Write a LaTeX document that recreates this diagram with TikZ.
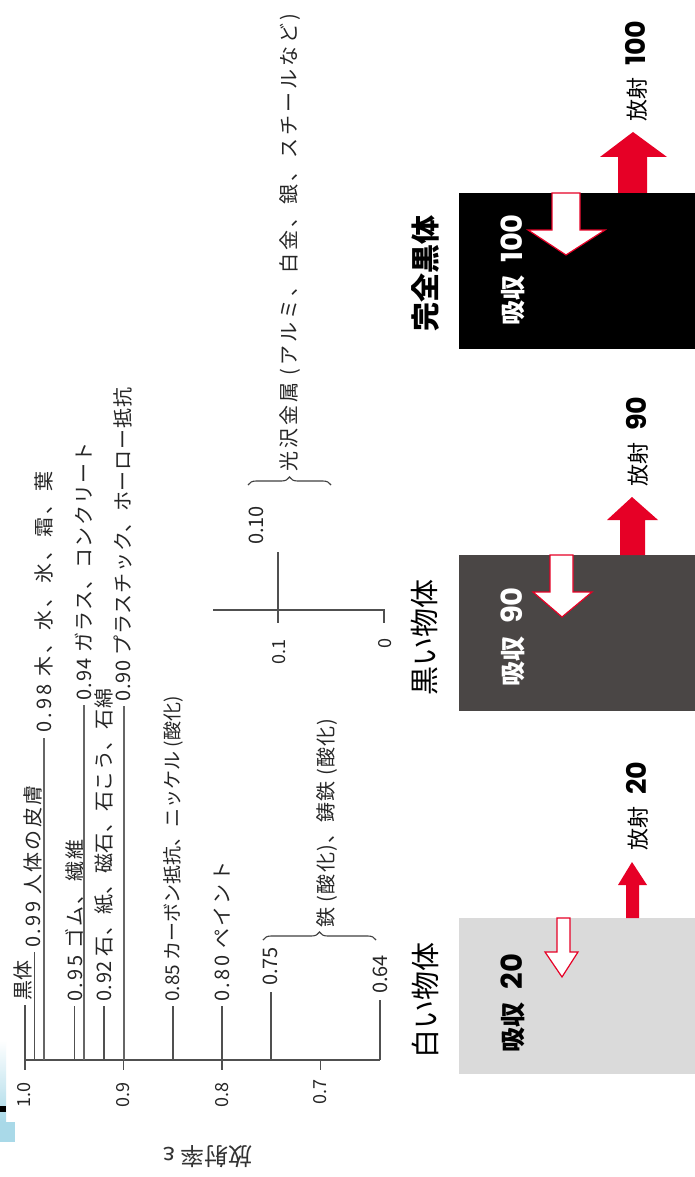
\documentclass[tikz,border=0pt]{standalone}
\usepackage{fontspec}
\setmainfont{Noto Sans CJK JP}
\newfontfamily\digfont{Poppins}
\usetikzlibrary{decorations.pathreplacing}
\definecolor{redarr}{HTML}{E60026}
\definecolor{darkbox}{HTML}{4A4645}
\definecolor{lightbox}{HTML}{DADADA}
\definecolor{axisgray}{HTML}{505050}
\definecolor{skyblue}{HTML}{A9D9E8}
\newcommand\dgbox[1]{{\digfont\bfseries\fontsize{29}{31}\selectfont #1}}
\newcommand\dgemit[1]{{\digfont\bfseries\fontsize{27}{29}\selectfont #1}}
\tikzset{
  lbl/.style={rotate=90, anchor=west, inner sep=0pt, text=black!85, font=\fontsize{20}{22}\selectfont\addfontfeature{LetterSpace=#1}},
  lbl/.default=12,
  num/.style={rotate=90, anchor=center, inner sep=0pt, text=black!85, font=\fontsize{18}{20}\selectfont},
  tickline/.style={draw=axisgray, line width=1.3pt},
  longline/.style={draw=black!60, line width=2pt},
  bracestyle/.style={draw=black!75, line width=1.1pt, decorate, decoration={brace, amplitude=8pt}},
  objbox/.style={inner sep=0pt, minimum width=236pt, minimum height=156pt, anchor=north west},
  objname/.style={rotate=90, anchor=center, inner sep=0pt, font=\fontsize{29}{31}\selectfont},
  boxtext/.style={rotate=90, anchor=center, inner sep=0pt, font=\bfseries\fontsize{25}{27}\selectfont},
  emittext/.style={rotate=90, anchor=west, inner sep=0pt, font=\fontsize{22}{24}\selectfont},
  absarrow/.style={draw=redarr, fill=white, line width=1.2pt, line join=miter},
  emitarrow/.style={fill=redarr}
}
\begin{document}
\begin{tikzpicture}[x=1pt,y=-1pt]
\useasboundingbox (0,0) rectangle (695,1177);
\fill[white] (0,0) rectangle (695,1177);

% stray artefact bottom-left
\shade[top color=white, bottom color=skyblue] (0,1040) rectangle (6,1122);
\fill[skyblue] (0,1122) rectangle (15,1142);
\fill[black] (0,1106) rectangle (6,1112);

% ---------- lower axis ----------
\draw[tickline] (25,1060) -- (380,1060);
\foreach \x in {25,123.5,222,320.5} \draw[tickline] (\x,1060) -- (\x,1070);
\node[num] (a10) at (24,1095) {1.0};
\node[num] (a09) at (123,1095) {0.9};
\node[num] (a08) at (222,1095) {0.8};
\node[num] (a07) at (320,1092) {0.7};
\node[rotate=180, inner sep=0pt, text=black!80, font=\fontsize{24}{26}\selectfont] (ylab) at (208,1157) {放射率 ε};

% ticks and labels
\draw[tickline] (25,1060) -- (25,1005);
\node[lbl=0] (kokutai) at (23,1001) {黒体};
\draw[tickline] (34.5,1060) -- (34.5,952);
\node[lbl] (l99) at (33,948) {0.99 人体の皮膚};
\draw[longline] (44,1060) -- (44,738);
\node[lbl=16] (l98) at (44,733) {0.98 木、水、氷、霜、葉};
\draw[tickline] (74.5,1060) -- (74.5,1006);
\node[lbl] (l95) at (75,1002) {0.95 ゴム、繊維};
\draw[longline] (84,1060) -- (84,705);
\node[lbl=6] (l94) at (84,701) {0.94 ガラス、コンクリート};
\draw[tickline] (104,1060) -- (104,1006);
\node[lbl=3] (l92) at (104,1002) {0.92 石、紙、磁石、石こう、石綿};
\draw[longline] (123.5,1060) -- (123.5,706);
\node[lbl=4] (l90) at (123,702) {0.90 プラスチック、ホーロー抵抗};
\draw[tickline] (173,1060) -- (173,1006);
\node[lbl=0, font=\fontsize{19}{21}\selectfont] (l85) at (173,1002) {0.85 カーボン抵抗、ニッケル (酸化)};
\draw[tickline] (222,1060) -- (222,1006);
\node[lbl] (l80) at (222,1002) {0.80 ペイント};
\draw[tickline] (271,1060) -- (271,992);
\node[lbl=0] (l75) at (270,986) {0.75};
\draw[tickline] (380,1060) -- (380,1000);
\node[lbl=0] (l64) at (380,994) {0.64};
\draw[bracestyle] (263,940) -- (376,940);
\node[lbl=6] (iron) at (327,928) {鉄 (酸化)、鋳鉄 (酸化)};

% ---------- upper axis ----------
\draw[tickline] (213,610) -- (384,610) -- (384,623);
\draw[tickline] (278,552) -- (278,623);
\node[num] (a01) at (279,652) {0.1};
\node[num] (a00) at (385,643) {0};
\node[lbl=0] (l10) at (256,545) {0.10};
\draw[bracestyle] (248,485) -- (331,485);
\node[lbl=15] (metal) at (290,472) {光沢金属 (アルミ、白金、銀、スチールなど)};

% ---------- objects ----------
% perfect black body
\node[objbox, fill=black] (bb) at (459,193) {};
\node[objname, font=\bfseries\fontsize{29}{31}\selectfont] (bbname) at (425,273) {完全黒体};
\node[boxtext, text=white] (bbabs) at (513,270) {吸収\hspace{13pt}\dgbox{100}};
\filldraw[absarrow] (552,193) -- (552,230) -- (528,230) -- (566,255) -- (605,230) -- (580,230) -- (580,193) -- cycle;
\fill[emitarrow] (618,193) -- (618,157) -- (600,157) -- (633,132) -- (667,157) -- (647,157) -- (647,193) -- cycle;
\node[emittext] (bbemit) at (636,122) {放射\hspace{12pt}\dgemit{100}};

% black object
\node[objbox, fill=darkbox] (dk) at (459,555) {};
\node[objname] (dkname) at (425,637) {黒い物体};
\node[boxtext, text=white] (dkabs) at (513,637) {吸収\hspace{13pt}\dgbox{90}};
\filldraw[absarrow] (550,555) -- (550,592) -- (533,592) -- (562,617) -- (592,592) -- (573,592) -- (573,555) -- cycle;
\fill[emitarrow] (620,555) -- (620,520) -- (607,520) -- (632,497) -- (658,520) -- (645,520) -- (645,555) -- cycle;
\node[emittext] (dkemit) at (637,487) {放射\hspace{12pt}\dgemit{90}};

% white object
\node[objbox, fill=lightbox] (wh) at (459,918) {};
\node[objname] (whname) at (425,1000) {白い物体};
\node[boxtext, text=black] (whabs) at (513,1003) {吸収\hspace{13pt}\dgbox{20}};
\filldraw[absarrow] (557,918) -- (557,952) -- (545,952) -- (562,977) -- (578,952) -- (570,952) -- (570,918) -- cycle;
\fill[emitarrow] (626,918) -- (626,885) -- (618,885) -- (632,862) -- (647,885) -- (639,885) -- (639,918) -- cycle;
\node[emittext] (whemit) at (637,851) {放射\hspace{12pt}\dgemit{20}};
\end{tikzpicture}
\end{document}
